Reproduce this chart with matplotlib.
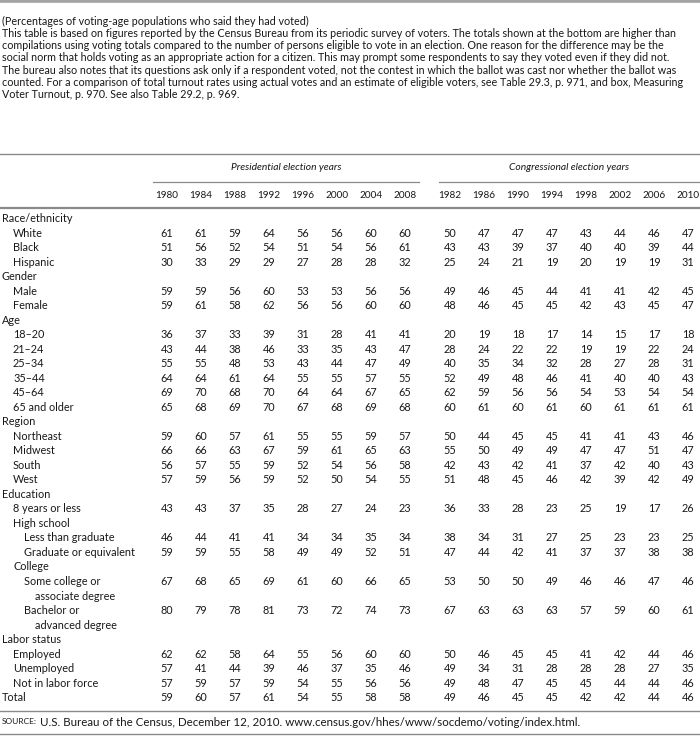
import matplotlib
matplotlib.use('Agg')
import matplotlib.pyplot as plt
from matplotlib import font_manager as fm

# ---------------- data ----------------
intro_lines = [
    "(Percentages of voting-age populations who said they had voted)",
    "This table is based on figures reported by the Census Bureau from its periodic survey of voters. The totals shown at the bottom are higher than",
    "compilations using voting totals compared to the number of persons eligible to vote in an election. One reason for the difference may be the",
    "social norm that holds voting as an appropriate action for a citizen. This may prompt some respondents to say they voted even if they did not.",
    "The bureau also notes that its questions ask only if a respondent voted, not the contest in which the ballot was cast nor whether the ballot was",
    "counted. For a comparison of total turnout rates using actual votes and an estimate of eligible voters, see Table 29.3, p. 971, and box, Measuring",
    "Voter Turnout, p. 970. See also Table 29.2, p. 969.",
]
group_titles = ["Presidential election years", "Congressional election years"]
pres_years = ["1980", "1984", "1988", "1992", "1996", "2000", "2004", "2008"]
cong_years = ["1982", "1986", "1990", "1994", "1998", "2002", "2006", "2010"]

row_labels = [
    "Race/ethnicity", "White", "Black", "Hispanic",
    "Gender", "Male", "Female",
    "Age", "18–20", "21–24", "25–34", "35–44", "45–64", "65 and older",
    "Region", "Northeast", "Midwest", "South", "West",
    "Education", "8 years or less", "High school", "Less than graduate",
    "Graduate or equivalent", "College", "Some college or", "associate degree",
    "Bachelor or", "advanced degree",
    "Labor status", "Employed", "Unemployed", "Not in labor force",
    "Total",
]
# indent level of each label (0 = category, 1 = item, 2 = sub-item, 3 = wrapped line)
row_levels = [0, 1, 1, 1, 0, 1, 1, 0, 1, 1, 1, 1, 1, 1, 0, 1, 1, 1, 1,
              0, 1, 1, 2, 2, 1, 2, 3, 2, 3, 0, 1, 1, 1, 0]

pres_values = [
    None, [61, 61, 59, 64, 56, 56, 60, 60], [51, 56, 52, 54, 51, 54, 56, 61], [30, 33, 29, 29, 27, 28, 28, 32],
    None, [59, 59, 56, 60, 53, 53, 56, 56], [59, 61, 58, 62, 56, 56, 60, 60],
    None, [36, 37, 33, 39, 31, 28, 41, 41], [43, 44, 38, 46, 33, 35, 43, 47], [55, 55, 48, 53, 43, 44, 47, 49],
    [64, 64, 61, 64, 55, 55, 57, 55], [69, 70, 68, 70, 64, 64, 67, 65], [65, 68, 69, 70, 67, 68, 69, 68],
    None, [59, 60, 57, 61, 55, 55, 59, 57], [66, 66, 63, 67, 59, 61, 65, 63], [56, 57, 55, 59, 52, 54, 56, 58],
    [57, 59, 56, 59, 52, 50, 54, 55],
    None, [43, 43, 37, 35, 28, 27, 24, 23], None, [46, 44, 41, 41, 34, 34, 35, 34], [59, 59, 55, 58, 49, 49, 52, 51],
    None, [67, 68, 65, 69, 61, 60, 66, 65], None, [80, 79, 78, 81, 73, 72, 74, 73], None,
    None, [62, 62, 58, 64, 55, 56, 60, 60], [57, 41, 44, 39, 46, 37, 35, 46], [57, 59, 57, 59, 54, 55, 56, 56],
    [59, 60, 57, 61, 54, 55, 58, 58],
]
cong_values = [
    None, [50, 47, 47, 47, 43, 44, 46, 47], [43, 43, 39, 37, 40, 40, 39, 44], [25, 24, 21, 19, 20, 19, 19, 31],
    None, [49, 46, 45, 44, 41, 41, 42, 45], [48, 46, 45, 45, 42, 43, 45, 47],
    None, [20, 19, 18, 17, 14, 15, 17, 18], [28, 24, 22, 22, 19, 19, 22, 24], [40, 35, 34, 32, 28, 27, 28, 31],
    [52, 49, 48, 46, 41, 40, 40, 43], [62, 59, 56, 56, 54, 53, 54, 54], [60, 61, 60, 61, 60, 61, 61, 61],
    None, [50, 44, 45, 45, 41, 41, 43, 46], [55, 50, 49, 49, 47, 47, 51, 47], [42, 43, 42, 41, 37, 42, 40, 43],
    [51, 48, 45, 46, 42, 39, 42, 49],
    None, [36, 33, 28, 23, 25, 19, 17, 26], None, [38, 34, 31, 27, 25, 23, 23, 25], [47, 44, 42, 41, 37, 37, 38, 38],
    None, [53, 50, 50, 49, 46, 46, 47, 46], None, [67, 63, 63, 63, 57, 59, 60, 61], None,
    None, [50, 46, 45, 45, 41, 42, 44, 46], [49, 34, 31, 28, 28, 28, 27, 35], [49, 48, 47, 45, 45, 44, 44, 46],
    [49, 46, 45, 45, 42, 42, 44, 46],
]
source_label = "SOURCE:"
source_text = " U.S. Bureau of the Census, December 12, 2010. www.census.gov/hhes/www/socdemo/voting/index.html."

# ---------------- styling / layout ----------------
names = {f.name for f in fm.fontManager.ttflist}
FAM = 'DejaVu Sans'
for cand in ['Liberation Sans Narrow', 'Lato', 'Roboto', 'Noto Sans']:
    if cand in names:
        FAM = cand
        break
TXT = '#1a1718'
RULE = '#8a8a8a'

W, H = 700, 738
fig = plt.figure(figsize=(W / 100, H / 100), dpi=100)
ax = fig.add_axes([0, 0, 1, 1])
ax.set_xlim(0, W)
ax.set_ylim(H, 0)
ax.axis('off')
renderer = fig.canvas.get_renderer()


def fit_size(text, target_w, style='normal', base=10.0):
    t = ax.text(0, 0, text, fontsize=base, family=FAM, style=style)
    w = t.get_window_extent(renderer).width
    t.remove()
    return base * target_w / w


# top gray band
ax.axhline(1.2, color='#a3a3a3', lw=2.6)

# intro text
intro_fs = min(fit_size(intro_lines[i], 684) for i in range(1, 6))
for i, line in enumerate(intro_lines):
    ax.text(2, 21 + 12.3 * i, line, fontsize=intro_fs, family=FAM, color=TXT,
            ha='left', va='center')

# table geometry
pres_x0, cong_x0, step = 167, 450, 34.0
pres_x = [pres_x0 + step * i for i in range(len(pres_years))]
cong_x = [cong_x0 + step * i for i in range(len(cong_years))]
tab_fs = fit_size("Graduate or equivalent", 110)
row_y0, row_dy = 218.5, 14.52
indent = [2, 13, 24, 35]

ax.plot([0, W], [154, 154], color=RULE, lw=1.0)
ax.text(286, 168, group_titles[0], fontsize=tab_fs * 0.95, family=FAM, style='italic',
        color=TXT, ha='center', va='center')
ax.text(569, 168, group_titles[1], fontsize=tab_fs * 0.95, family=FAM, style='italic',
        color=TXT, ha='center', va='center')
ax.plot([153, 419], [182, 182], color=RULE, lw=0.9)
ax.plot([439, W], [182, 182], color=RULE, lw=0.9)
for x, yr in zip(pres_x, pres_years):
    ax.text(x, 195, yr, fontsize=tab_fs * 0.92, family=FAM, color=TXT, ha='center', va='center')
for x, yr in zip(cong_x, cong_years):
    ax.text(x, 195, yr, fontsize=tab_fs * 0.92, family=FAM, color=TXT, ha='center', va='center')
ax.plot([0, W], [208, 208], color=RULE, lw=1.6)

for r, (lab, lev) in enumerate(zip(row_labels, row_levels)):
    y = row_y0 + row_dy * r
    ax.text(indent[lev], y, lab, fontsize=tab_fs, family=FAM, color=TXT, ha='left', va='center')
    if pres_values[r] is not None:
        for x, v in zip(pres_x, pres_values[r]):
            ax.text(x, y, str(v), fontsize=tab_fs, family=FAM, color=TXT, ha='center', va='center')
    if cong_values[r] is not None:
        for x, v in zip(cong_x, cong_values[r]):
            ax.text(x, y, str(v), fontsize=tab_fs, family=FAM, color=TXT, ha='center', va='center')

ax.plot([0, W], [711, 711], color=RULE, lw=1.0)
src_fs = fit_size(source_text, 545)
t = ax.text(2, 722, source_label, fontsize=src_fs * 0.72, family=FAM, color=TXT, ha='left', va='center')
sw = t.get_window_extent(renderer).width
ax.text(2 + sw, 722, source_text, fontsize=src_fs, family=FAM, color=TXT, ha='left', va='center')
ax.plot([0, W], [733.5, 733.5], color=RULE, lw=1.0)

fig.savefig('out.png', dpi=100)
